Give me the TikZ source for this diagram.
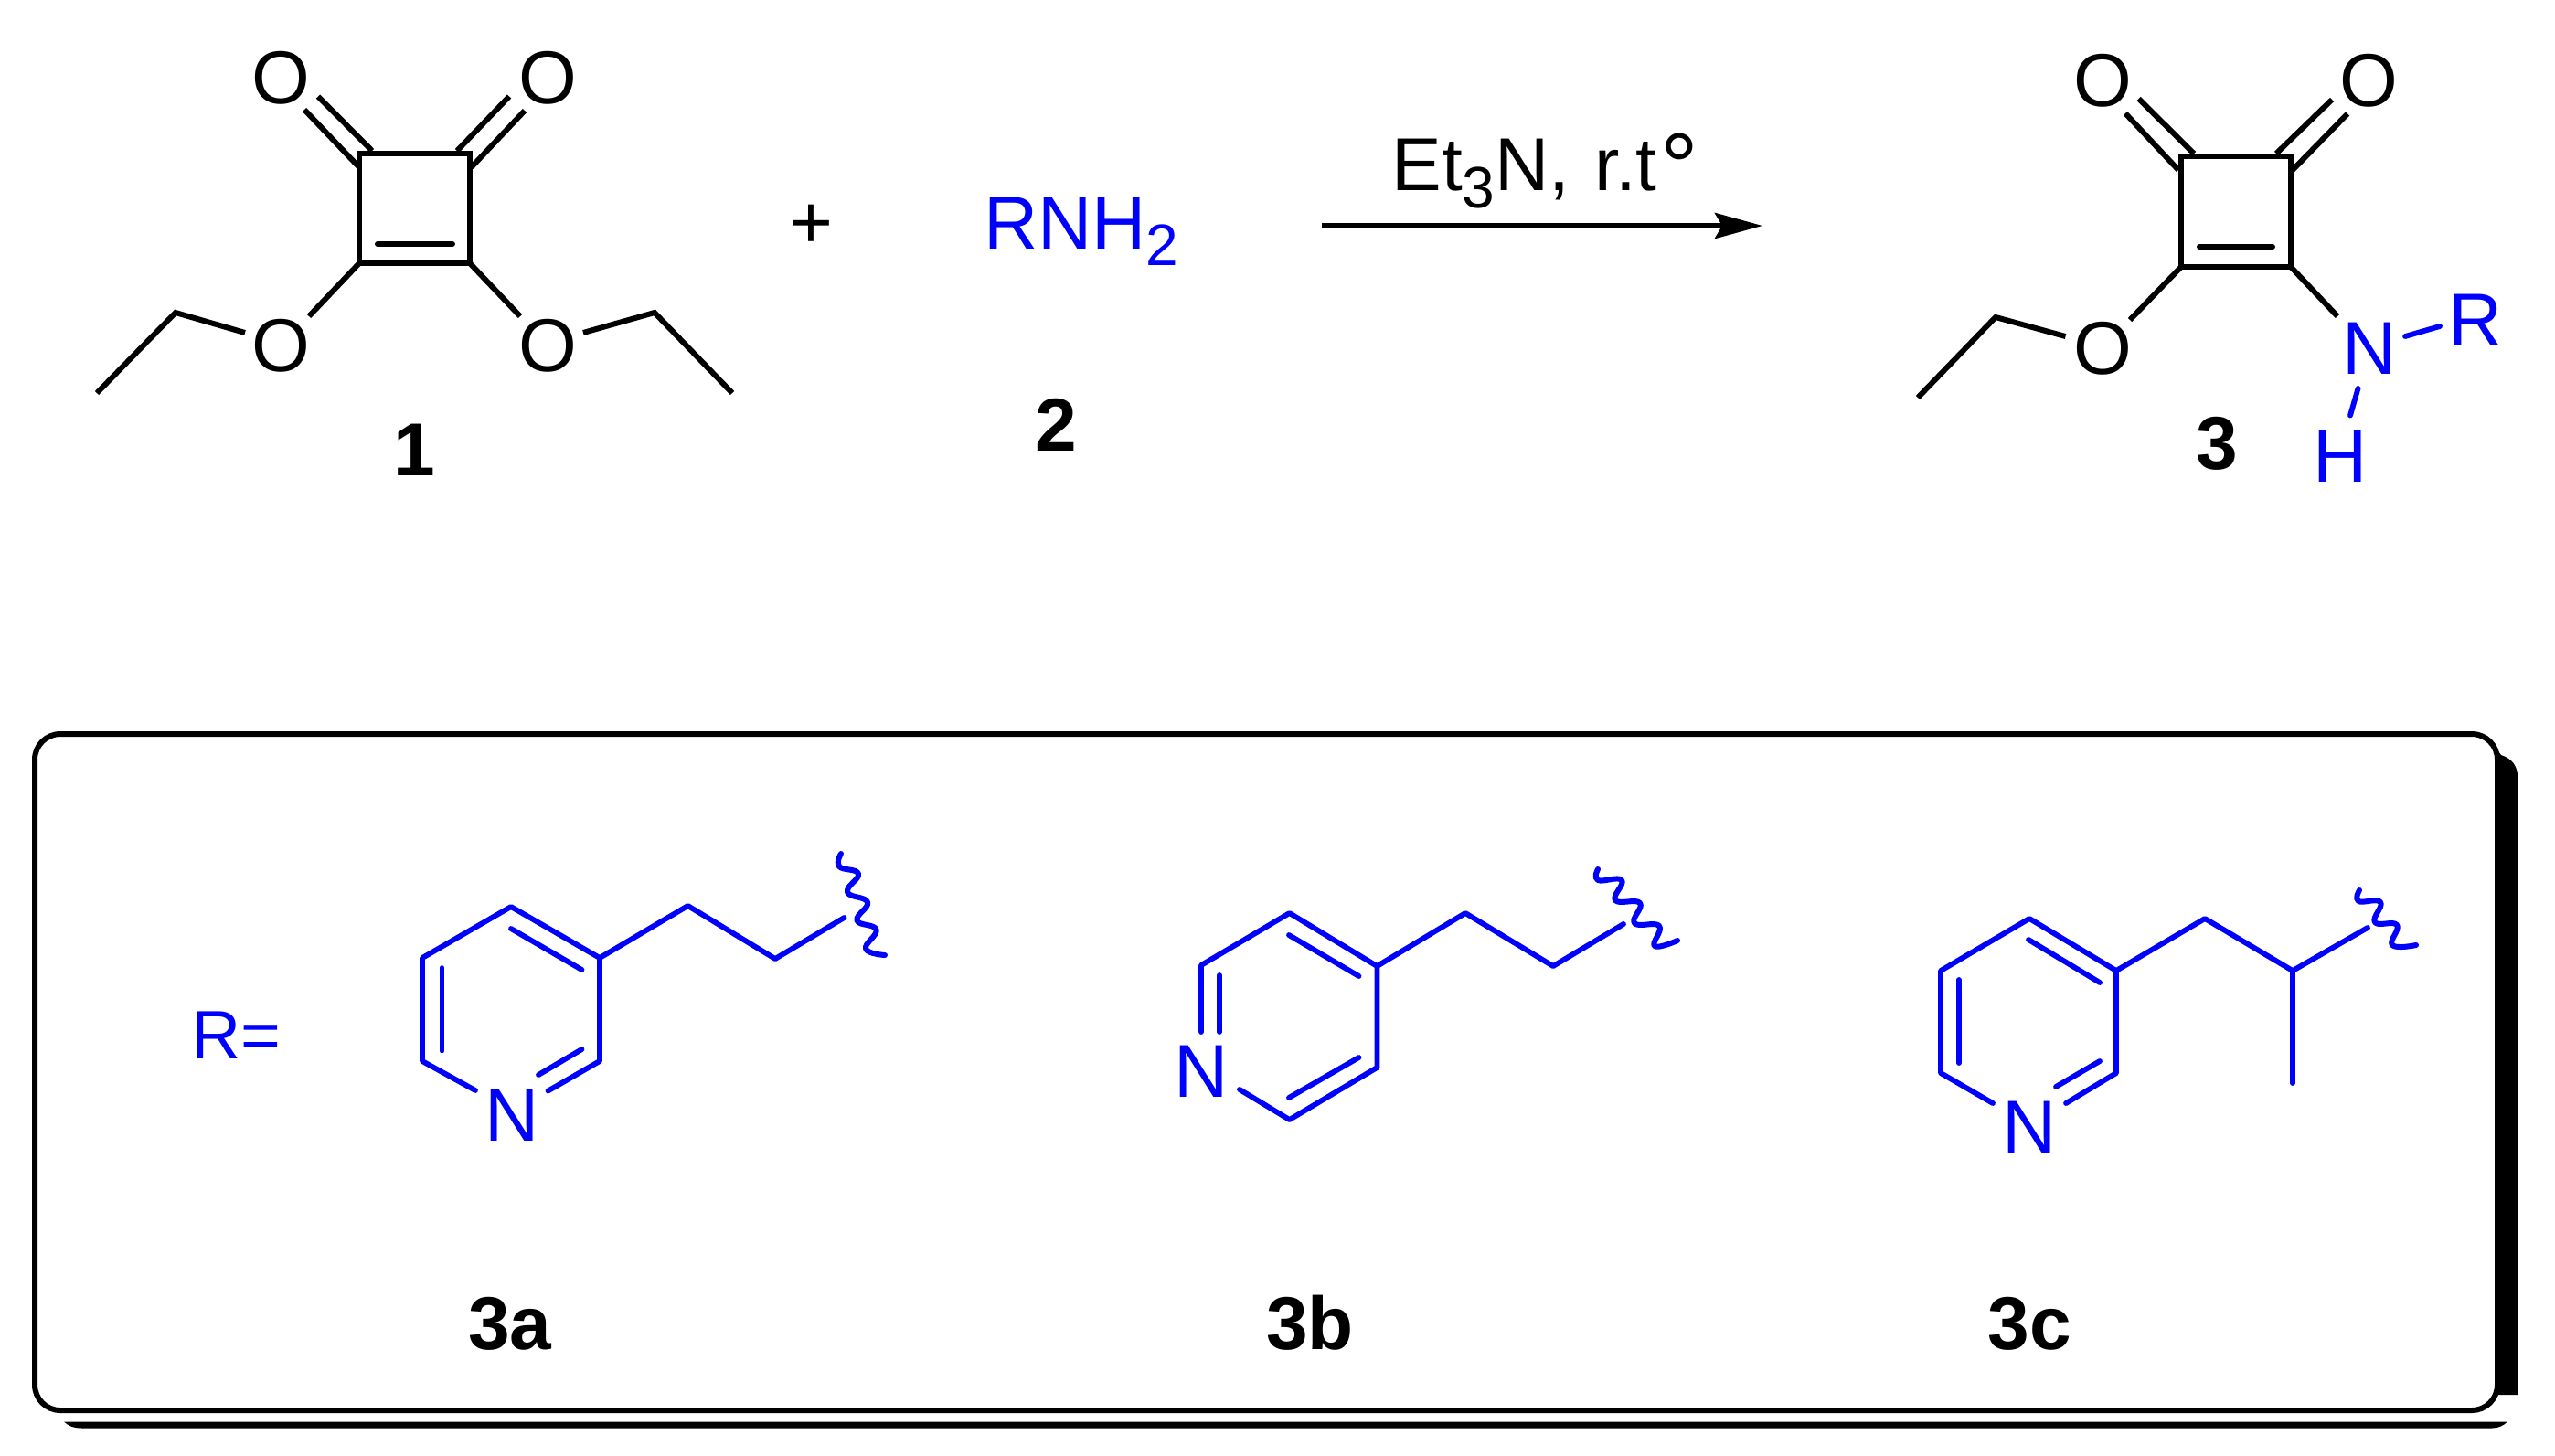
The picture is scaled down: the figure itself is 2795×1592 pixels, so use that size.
\documentclass[tikz,border=0pt]{standalone}
\usepackage{fontspec}
\setmainfont{Liberation Sans}
\usetikzlibrary{arrows.meta}
\definecolor{chemblue}{RGB}{0,0,255}
\tikzset{
  x=0.5pt,y=-0.5pt,
  bond/.style={draw=black,line width=3pt,line cap=butt,line join=miter},
  inner/.style={draw=black,line width=3pt,line cap=round},
  bbond/.style={draw=chemblue,line width=2.9pt,line cap=round,line join=round},
  atom/.style={inner sep=0pt,outer sep=0pt,anchor=center,text=black,font=\fontsize{41}{41}\selectfont},
  batom/.style={atom,text=chemblue},
  label/.style={inner sep=0pt,outer sep=0pt,anchor=base,text=black,font=\fontsize{41}{41}\selectfont\bfseries},
  wave/.style={draw=chemblue,line width=3pt,line cap=round,line join=round},
}
\begin{document}
\begin{tikzpicture}
\useasboundingbox (0,0) rectangle (2795,1592);
% panel shadow
\fill[black] (2725,812) -- (2736,826) .. controls (2748,830) and (2754,838) .. (2754,850) -- (2754,1526) -- (2725,1526) -- cycle;
\fill[black] (70,1555.5) -- (2743,1555.5) .. controls (2738,1560) and (2733,1562.5) .. (2726,1562.5) -- (90,1562.5) .. controls (80,1562.5) and (75,1560) .. (70,1555.5) -- cycle;
\node[draw=black,fill=white,line width=3pt,rounded corners=14pt,inner sep=0pt,outer sep=0pt,minimum width=1347pt,minimum height=370pt] (panel) at (1385,1173) {};

% compound 1
\path (393,168) coordinate (a1) (514,168) coordinate (a2) (514,288) coordinate (a3) (393,288) coordinate (a4)
 (413,267) coordinate (a5) (495,267) coordinate (a6)
 (333,120) coordinate (a7) (392,182) coordinate (a8) (348,105.5) coordinate (a9) (407,165) coordinate (a10)
 (557,105.5) coordinate (a11) (500,165) coordinate (a12) (574,121) coordinate (a13) (515.6,183) coordinate (a14)
 (338,346) coordinate (a15) (569,346) coordinate (a16)
 (268,364) coordinate (a17) (192,342) coordinate (a18) (106,430) coordinate (a19)
 (638,364) coordinate (a20) (716,342) coordinate (a21) (801,430) coordinate (a22);
\node[atom] (o1) at (307.5,85) {O};
\node[atom] (o2) at (599,85) {O};
\node[atom] (o3) at (307.5,378) {O};
\node[atom] (o4) at (599,378) {O};
\draw[bond] (a1) -- (a2) -- (a3) -- (a4) -- cycle;
\draw[inner] (a5) -- (a6);
\draw[bond] (a7) -- (a8);
\draw[bond] (a9) -- (a10);
\draw[bond] (a11) -- (a12);
\draw[bond] (a13) -- (a14);
\draw[bond] (a4) -- (a15);
\draw[bond] (a3) -- (a16);
\draw[bond] (a17) -- (a18) -- (a19);
\draw[bond] (a20) -- (a21) -- (a22);
\node[label] (l1) at (453,520) {1};

% plus, amine
\node[atom] (plus) at (887,248) {+};
\node[inner sep=0pt,outer sep=0pt,anchor=base west,text=chemblue,font=\fontsize{41}{41}\selectfont] (amine) at (1076,272.7) {RNH\raisebox{-9pt}{\fontsize{32}{32}\selectfont 2}};
\node[label] (l2) at (1155,493) {2};

% arrow
\coordinate (r1) at (1446,247);
\coordinate (r2) at (1928,247);
\draw[line width=3pt,-{Stealth[length=26pt,width=14pt,inset=4pt]}] (r1) -- (r2);
\node[inner sep=0pt,outer sep=0pt,anchor=base west,text=black,font=\fontsize{41}{41}\selectfont] (cond) at (1522.5,208) {Et\raisebox{-9.5pt}{\fontsize{32}{32}\selectfont 3}N, \hspace{2pt}r.t\hspace{2pt}\raisebox{-5pt}{\fontsize{52}{52}\selectfont °}};

% compound 3
\path (2386,171) coordinate (b1) (2506,171) coordinate (b2) (2506,292) coordinate (b3) (2386,292) coordinate (b4)
 (2406,270) coordinate (b5) (2486,270) coordinate (b6)
 (2325,124) coordinate (b7) (2383,186) coordinate (b8) (2339.5,108) coordinate (b9) (2400,168) coordinate (b10)
 (2551,109) coordinate (b11) (2490,168) coordinate (b12) (2568,124.5) coordinate (b13) (2507,187) coordinate (b14)
 (2330,350) coordinate (b15) (2557,346) coordinate (b16)
 (2259.5,368) coordinate (b17) (2183,347) coordinate (b18) (2098,435) coordinate (b19)
 (2631,368) coordinate (b20) (2669,357) coordinate (b21) (2579.5,425) coordinate (b22) (2571,454.5) coordinate (b23);
\node[atom] (o5) at (2300,88) {O};
\node[atom] (o6) at (2591,88) {O};
\node[atom] (o7) at (2300,381) {O};
\node[batom] (n1) at (2592,381) {N};
\node[batom] (r) at (2708.5,350) {R};
\node[batom] (h) at (2560,499) {H};
\draw[bond] (b1) -- (b2) -- (b3) -- (b4) -- cycle;
\draw[inner] (b5) -- (b6);
\draw[bond] (b7) -- (b8);
\draw[bond] (b9) -- (b10);
\draw[bond] (b11) -- (b12);
\draw[bond] (b13) -- (b14);
\draw[bond] (b4) -- (b15);
\draw[bond] (b3) -- (b16);
\draw[bond] (b17) -- (b18) -- (b19);
\draw[bbond] (b20) -- (b21);
\draw[bbond] (b22) -- (b23);
\node[label] (l3) at (2425,513) {3};

% R=
\node[inner sep=0pt,outer sep=0pt,anchor=base west,text=chemblue,font=\fontsize{37.5}{37.5}\selectfont] (req) at (209,1158) {R=};

% 3a
\path (559,992) coordinate (c1) (656,1048) coordinate (c2) (656,1161) coordinate (c3) (462,1161) coordinate (c4) (462,1048) coordinate (c5)
 (520,1193) coordinate (c6) (599.5,1193.5) coordinate (c7)
 (559,1016) coordinate (c8) (636.5,1061) coordinate (c9) (483.5,1059) coordinate (c10) (483.5,1149.5) coordinate (c11)
 (636.5,1148) coordinate (c12) (589,1176) coordinate (c13)
 (752.5,991) coordinate (c14) (848,1049) coordinate (c15) (923.5,1004) coordinate (c16);
\node[batom] (n2) at (560,1220) {N};
\draw[bbond] (c6) -- (c4) -- (c5) -- (c1) -- (c2) -- (c3) -- (c7);
\draw[bbond] (c8) -- (c9);
\draw[bbond] (c10) -- (c11);
\draw[bbond] (c12) -- (c13);
\draw[bbond] (c2) -- (c14) -- (c15) -- (c16);
\draw[wave] plot[smooth,tension=0.75] coordinates {(920,934) (918,948) (939,956) (927,976) (949,987) (937.5,1007) (958.5,1017) (947,1038) (968,1045)};
\node[label] (l3a) at (558,1476) {3a};

% 3b
\path (1410.6,999) coordinate (d1) (1506.4,1057) coordinate (d2) (1506.4,1168) coordinate (d3) (1410.6,1225) coordinate (d4) (1314,1056) coordinate (d5)
 (1314,1129) coordinate (d6) (1334,1067) coordinate (d7) (1334,1129) coordinate (d8)
 (1410,1023) coordinate (d9) (1486.5,1068) coordinate (d10) (1486.5,1157) coordinate (d11) (1410,1201) coordinate (d12) (1356,1192) coordinate (d13)
 (1603,999) coordinate (d14) (1699,1057) coordinate (d15) (1776,1011) coordinate (d16);
\node[batom] (n3) at (1314.5,1172) {N};
\draw[bbond] (d6) -- (d5) -- (d1) -- (d2) -- (d3) -- (d4) -- (d13);
\draw[bbond] (d7) -- (d8);
\draw[bbond] (d9) -- (d10);
\draw[bbond] (d11) -- (d12);
\draw[bbond] (d2) -- (d14) -- (d15) -- (d16);
\draw[wave] plot[smooth,tension=0.75] coordinates {(1748,951) (1748,963) (1774,963) (1767,985) (1794,988) (1788,1010) (1815,1013) (1810,1035) (1835,1029)};
\node[label] (l3b) at (1433,1476) {3b};

% 3c
\path (2220,1005) coordinate (e1) (2315,1062) coordinate (e2) (2315,1174) coordinate (e3) (2123,1174) coordinate (e4) (2123,1062) coordinate (e5)
 (2180,1207) coordinate (e6) (2260,1207) coordinate (e7)
 (2219,1028) coordinate (e8) (2297,1075) coordinate (e9) (2143,1072) coordinate (e10) (2143,1163) coordinate (e11)
 (2297,1161) coordinate (e12) (2249,1189) coordinate (e13)
 (2412,1005) coordinate (e14) (2508,1062) coordinate (e15) (2590,1015) coordinate (e16) (2508,1185) coordinate (e17);
\node[batom] (n4) at (2220,1233) {N};
\draw[bbond] (e6) -- (e4) -- (e5) -- (e1) -- (e2) -- (e3) -- (e7);
\draw[bbond] (e8) -- (e9);
\draw[bbond] (e10) -- (e11);
\draw[bbond] (e12) -- (e13);
\draw[bbond] (e2) -- (e14) -- (e15) -- (e16);
\draw[bbond] (e15) -- (e17);
\draw[wave] plot[smooth,tension=0.75] coordinates {(2581,974) (2580,986) (2604,987) (2598,1009) (2622,1012) (2617,1034) (2643,1034)};
\node[label] (l3c) at (2220.5,1476) {3c};
\end{tikzpicture}
\end{document}
